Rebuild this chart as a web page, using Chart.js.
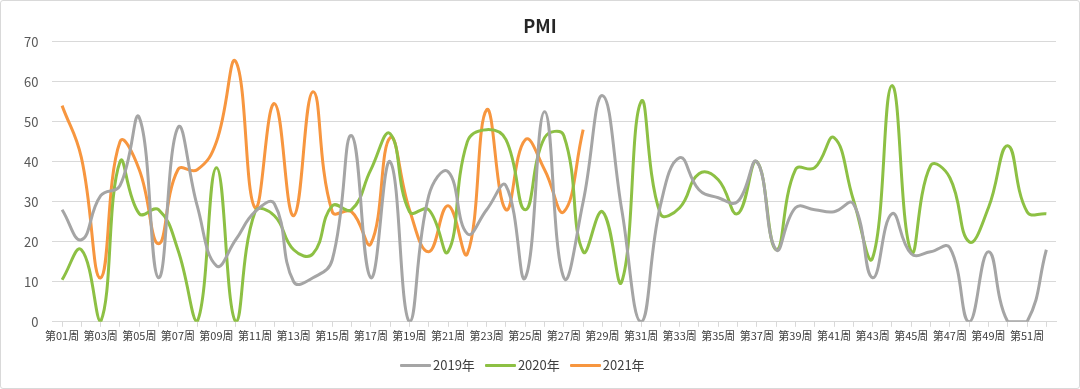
<!DOCTYPE html>
<html>
<head>
<meta charset="utf-8">
<script src="https://cdn.jsdelivr.net/npm/chart.js@4/dist/chart.umd.min.js"></script>
<style>
  body { margin: 0; background: #fff; }
  #wrap { position: relative; width: 1080px; height: 389px; box-sizing: border-box; border: 1px solid #d9d9d9; border-radius: 3px; }
  canvas { display: block; }
  #legend { position: absolute; left: 399px; top: 355px; display: flex; font: 13px "Noto Sans CJK SC", "Open Sans", sans-serif; color: #404040; line-height: 18px; }
  #legend .item { display: flex; align-items: center; margin-right: 10px; }
  #legend .swatch { width: 31px; height: 3px; margin-right: 2px; border-radius: 1px; }
</style>
</head>
<body>
<div id="wrap">
  <canvas id="pmiChart" width="1078" height="387"></canvas>
  <div id="legend"></div>
</div>
<script>
// week labels
const weeks = [
  '第01周','第02周','第03周','第04周','第05周','第06周','第07周','第08周','第09周','第10周',
  '第11周','第12周','第13周','第14周','第15周','第16周','第17周','第18周','第19周','第20周',
  '第21周','第22周','第23周','第24周','第25周','第26周','第27周','第28周','第29周','第30周',
  '第31周','第32周','第33周','第34周','第35周','第36周','第37周','第38周','第39周','第40周',
  '第41周','第42周','第43周','第44周','第45周','第46周','第47周','第48周','第49周','第50周',
  '第51周','第52周'
];

const pmi2019 = [28, 20.5, 31.5, 34, 51, 11, 48.5, 29, 14, 20.5,
  27.5, 29.5, 10, 11, 15.5, 46.5, 11, 40, 0, 31.5,
  37.5, 22, 28, 34, 11, 52.5, 11, 30, 56.5, 28,
  0, 29, 41, 33, 31, 30, 40, 18, 28.5, 28,
  27.5, 29.5, 11, 27, 17, 17.5, 18.5, 0, 17.5, 0,
  0, 18];

const pmi2020 = [10.5, 18, 0, 40, 27, 28, 18, 0, 38.5, 0,
  27.5, 26.5, 18, 17, 29, 28, 38, 47, 27.5, 28,
  17.5, 45, 48, 45.5, 28, 46, 46.5, 17.5, 27.5, 10,
  55, 27, 28.5, 37, 35.5, 27, 40, 18, 38, 38.5,
  46, 30.5, 16, 59, 17.5, 39, 36, 20, 28.5, 44,
  27.5, 27];

const pmi2021 = [54, 41, 11, 45, 38, 19.5, 38, 38, 45, 65,
  28.5, 54.5, 26.5, 57.5, 27.5, 27.5, 19.5, 46, 28, 17.5,
  29, 17, 53, 28, 45.5, 38, 27.5, 48];

const yTicks = [0, 10, 20, 30, 40, 50, 60, 70];

const FONT = '"Noto Sans CJK SC", "Open Sans", sans-serif';

function series(label, values, color) {
  return {
    label,
    data: values,
    borderColor: color,
    backgroundColor: color,
    borderWidth: 3,
    pointRadius: 0,
    tension: 0.45,
    clip: 0,
    fill: false
  };
}

const chart = new Chart(document.getElementById('pmiChart'), {
  type: 'line',
  data: {
    labels: weeks,
    datasets: [
      series('2019年', pmi2019, '#a5a5a5'),
      series('2020年', pmi2020, '#8dc044'),
      series('2021年', pmi2021, '#f7963f')
    ]
  },
  options: {
    responsive: false,
    animation: false,
    layout: { padding: { left: 9, right: 9, top: 4, bottom: 44 } },
    plugins: {
      title: {
        display: true,
        text: 'PMI',
        color: '#262626',
        font: { family: FONT, size: 18, weight: 'bold' },
        padding: { top: 10, bottom: 5 }
      },
      legend: { display: false },
      tooltip: { enabled: false }
    },
    scales: {
      x: {
        offset: true,
        grid: { display: true, drawOnChartArea: false, drawTicks: true, tickLength: 5, color: '#d9d9d9' },
        border: { color: '#d9d9d9' },
        ticks: {
          autoSkip: false,
          maxRotation: 0,
          minRotation: 0,
          color: '#404040',
          font: { family: FONT, size: 11 },
          padding: 2,
          callback: function (v, i) { return i % 2 === 0 ? weeks[i] : ''; }
        }
      },
      y: {
        min: 0,
        max: 70,
        afterBuildTicks: axis => { axis.ticks = yTicks.map(v => ({ value: v })); },
        grid: { color: '#d9d9d9', drawTicks: false },
        border: { display: false },
        ticks: {
          color: '#595959',
          font: { family: FONT, size: 13 },
          padding: 14
        }
      },
      // empty right-hand spacer so the title stays centred on the page
      yRight: {
        position: 'right',
        min: 0,
        max: 70,
        grid: { display: false },
        border: { display: false },
        ticks: { display: false },
        afterFit: axis => { axis.width = 14; }
      }
    }
  }
});

// legend built from the chart's datasets
const legendEl = document.getElementById('legend');
chart.data.datasets.forEach(ds => {
  legendEl.innerHTML += `<div class="item"><span class="swatch" style="background:${ds.borderColor}"></span>${ds.label}</div>`;
});
</script>
</body>
</html>
